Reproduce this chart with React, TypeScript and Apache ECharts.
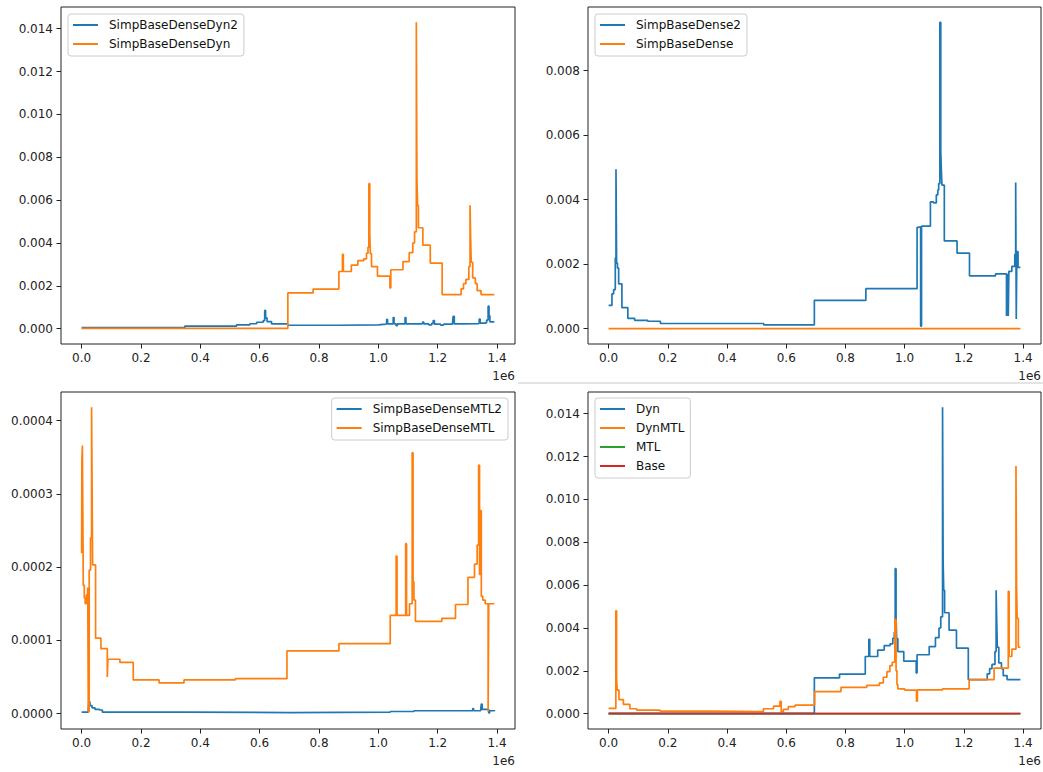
import React, { useEffect, useRef } from "react";
import * as echarts from "echarts";

// ---------- tick values ----------
const X_TICKS = [0, 0.2, 0.4, 0.6, 0.8, 1.0, 1.2, 1.4];
const Y_TICKS_DYN = [0, 0.002, 0.004, 0.006, 0.008, 0.01, 0.012, 0.014];
const Y_TICKS_DENSE = [0, 0.002, 0.004, 0.006, 0.008];
const Y_TICKS_MTL = [0, 0.0001, 0.0002, 0.0003, 0.0004];

// ---------- data (x in units of 1e6) ----------
// SimpBaseDenseDyn (also "Dyn")
const dynX = [0, 0.695, 0.78, 0.867, 0.879, 0.882, 0.909, 0.931, 0.951, 0.96, 0.965, 0.968, 0.971, 0.973, 0.977, 0.997, 1.039, 1.042, 1.083, 1.104, 1.116, 1.122, 1.128, 1.13, 1.132, 1.135, 1.15, 1.175, 1.215, 1.279, 1.287, 1.295, 1.305, 1.309, 1.311, 1.313, 1.318, 1.327, 1.333, 1.346, 1.391];
const dynY = [0.00001, 0.00167, 0.00185, 0.00267, 0.00347, 0.00267, 0.00297, 0.00318, 0.00326, 0.00352, 0.0038, 0.00677, 0.0045, 0.0035, 0.0029, 0.00245, 0.0019, 0.00275, 0.00313, 0.00355, 0.004, 0.00452, 0.0143, 0.0071, 0.00576, 0.00471, 0.0039, 0.00306, 0.00159, 0.00186, 0.0021, 0.0023, 0.0029, 0.00576, 0.0043, 0.0031, 0.00237, 0.0021, 0.00178, 0.00159, 0.00159];

// SimpBaseDenseDyn2
const dyn2X = [0, 0.348, 0.522, 0.567, 0.59, 0.612, 0.617, 0.62, 0.625, 0.64, 0.695, 0.87, 1.0, 1.026, 1.028, 1.031, 1.048, 1.05, 1.053, 1.06, 1.064, 1.088, 1.09, 1.093, 1.145, 1.149, 1.153, 1.17, 1.18, 1.185, 1.189, 1.21, 1.22, 1.25, 1.252, 1.256, 1.28, 1.338, 1.34, 1.343, 1.36, 1.365, 1.37, 1.373, 1.376, 1.391];
const dyn2Y = [0.00005, 0.00012, 0.00018, 0.00023, 0.0003, 0.00038, 0.00085, 0.0005, 0.00033, 0.00022, 0.00016, 0.00018, 0.00021, 0.00023, 0.00043, 0.00022, 0.00024, 0.00052, 0.00022, 0.00014, 0.00022, 0.00024, 0.00052, 0.00022, 0.00025, 0.00031, 0.00022, 0.00018, 0.00025, 0.00038, 0.00021, 0.00017, 0.00021, 0.00025, 0.00058, 0.00022, 0.00023, 0.00026, 0.00045, 0.00026, 0.00028, 0.0004, 0.00105, 0.0006, 0.00032, 0.00029];

// SimpBaseDense2
const dense2X = [0, 0.0114, 0.017, 0.0226, 0.025, 0.027, 0.03, 0.034, 0.045, 0.065, 0.088, 0.132, 0.175, 0.524, 0.695, 0.869, 1.042, 1.046, 1.054, 1.057, 1.087, 1.098, 1.107, 1.112, 1.115, 1.119, 1.122, 1.124, 1.126, 1.134, 1.177, 1.219, 1.307, 1.344, 1.346, 1.347, 1.349, 1.35, 1.352, 1.362, 1.372, 1.375, 1.377, 1.379, 1.383, 1.391];
const dense2Y = [0.00072, 0.00108, 0.00121, 0.00219, 0.00494, 0.00203, 0.00188, 0.00139, 0.00065, 0.00032, 0.00026, 0.00023, 0.00016, 0.00012, 0.00088, 0.00124, 0.00314, 0.00316, 0.00008, 0.00318, 0.00393, 0.0039, 0.00415, 0.0043, 0.0045, 0.0095, 0.0055, 0.0049, 0.00445, 0.00272, 0.00234, 0.00164, 0.0017, 0.00039, 0.0017, 0.00042, 0.0017, 0.00039, 0.00178, 0.00193, 0.0023, 0.00453, 0.0003, 0.00239, 0.0019, 0.0019];

// SimpBaseDense
const denseX = [0, 1.391];
const denseY = [0, 0];

// SimpBaseDenseMTL
const mtlX = [0, 0.0008, 0.0025, 0.0045, 0.0055, 0.009, 0.012, 0.016, 0.019, 0.0205, 0.0225, 0.0255, 0.03, 0.0335, 0.0355, 0.037, 0.047, 0.065, 0.0865, 0.0885, 0.129, 0.174, 0.261, 0.345, 0.518, 0.692, 0.867, 1.04, 1.06, 1.063, 1.092, 1.095, 1.105, 1.114, 1.117, 1.12, 1.125, 1.214, 1.26, 1.302, 1.324, 1.333, 1.338, 1.341, 1.344, 1.347, 1.352, 1.36, 1.37, 1.372, 1.391];
const mtlY = [0.000219, 0.000345, 0.000366, 0.000245, 0.000175, 0.000158, 0.00015, 0.000162, 0.00015, 0.000172, 0.000003, 0.000196, 0.00024, 0.000418, 0.000295, 0.000203, 0.000103, 0.0000887, 0.00005, 0.0000743, 0.00007, 0.000046, 0.000042, 0.000046, 0.0000477, 0.0000856, 0.0000955, 0.000134, 0.000215, 0.000134, 0.000232, 0.000134, 0.00015, 0.000356, 0.00018, 0.000155, 0.000126, 0.00013, 0.000149, 0.000186, 0.000204, 0.00023, 0.000339, 0.00019, 0.000277, 0.00016, 0.000155, 0.00015, 0.000003, 0.00015, 0.00015];

// SimpBaseDenseMTL2
const mtl2X = [0, 0.022, 0.024, 0.028, 0.035, 0.045, 0.06, 0.07, 0.35, 0.7, 1.04, 1.12, 1.3, 1.318, 1.321, 1.345, 1.347, 1.35, 1.372, 1.375, 1.391];
const mtl2Y = [0.000002, 0.000003, 0.000016, 0.000011, 0.000008, 0.000006, 0.000005, 0.000002, 0.0000015, 0.000002, 0.000003, 0.000004, 0.000004, 0.000007, 0.000004, 0.000006, 0.000013, 0.000006, 0.000001, 0.000004, 0.000005];

// DynMTL
const dynMtlX = [0, 0.0245, 0.027, 0.029, 0.035, 0.05, 0.072, 0.095, 0.174, 0.348, 0.523, 0.557, 0.579, 0.583, 0.59, 0.607, 0.63, 0.696, 0.785, 0.872, 0.915, 0.928, 0.94, 0.95, 0.958, 0.967, 0.971, 0.974, 0.977, 1.0, 1.04, 1.043, 1.128, 1.218, 1.302, 1.35, 1.353, 1.362, 1.376, 1.378, 1.38, 1.384, 1.391];
const dynMtlY = [0.00025, 0.0048, 0.0016, 0.0011, 0.00066, 0.00043, 0.00023, 0.00017, 0.00012, 0.0001, 0.00023, 0.00035, 0.00058, 0.00009, 0.0002, 0.00033, 0.0004, 0.00103, 0.00123, 0.00132, 0.00144, 0.0017, 0.00196, 0.00224, 0.0024, 0.0044, 0.002, 0.00136, 0.00116, 0.0011, 0.00058, 0.00111, 0.00116, 0.00159, 0.00213, 0.00571, 0.00267, 0.00301, 0.01156, 0.0061, 0.00445, 0.0031, 0.0031];

// MTL, Base
const mtlOnlyX = [0, 1.391];
const mtlOnlyY = [0, 0];
const baseX = [0, 1.391];
const baseY = [0, 0];

// ---------- styling ----------
const C_BLUE = "#1f77b4";
const C_ORANGE = "#ff7f0e";
const C_GREEN = "#2ca02c";
const C_RED = "#d62728";
const FONT = "DejaVu Sans";
const INK = "#222222";

const X_MIN = -0.06955;
const X_MAX = 1.46055;

type S = { name: string; xs: number[]; ys: number[]; color: string };
type Panel = {
  grid: { left: number; top: number; width: number; height: number };
  yMin: number;
  yMax: number;
  yTicks: number[];
  yDec: number;
  legend: Record<string, number>;
  series: S[];
};

const PANELS: Panel[] = [
  {
    grid: { left: 61, top: 7, width: 454, height: 337 },
    yMin: -0.000715,
    yMax: 0.015015,
    yTicks: Y_TICKS_DYN,
    yDec: 3,
    legend: { left: 68, top: 14 },
    series: [
      { name: "SimpBaseDenseDyn2", xs: dyn2X, ys: dyn2Y, color: C_BLUE },
      { name: "SimpBaseDenseDyn", xs: dynX, ys: dynY, color: C_ORANGE },
    ],
  },
  {
    grid: { left: 588, top: 7, width: 453, height: 337 },
    yMin: -0.000475,
    yMax: 0.009975,
    yTicks: Y_TICKS_DENSE,
    yDec: 3,
    legend: { left: 595, top: 14 },
    series: [
      { name: "SimpBaseDense2", xs: dense2X, ys: dense2Y, color: C_BLUE },
      { name: "SimpBaseDense", xs: denseX, ys: denseY, color: C_ORANGE },
    ],
  },
  {
    grid: { left: 61, top: 392, width: 454, height: 337 },
    yMin: -0.0000209,
    yMax: 0.0004389,
    yTicks: Y_TICKS_MTL,
    yDec: 4,
    legend: { right: 535, top: 398 },
    series: [
      { name: "SimpBaseDenseMTL2", xs: mtl2X, ys: mtl2Y, color: C_BLUE },
      { name: "SimpBaseDenseMTL", xs: mtlX, ys: mtlY, color: C_ORANGE },
    ],
  },
  {
    grid: { left: 588, top: 392, width: 453, height: 337 },
    yMin: -0.000715,
    yMax: 0.015015,
    yTicks: Y_TICKS_DYN,
    yDec: 3,
    legend: { left: 595, top: 398 },
    series: [
      { name: "Dyn", xs: dynX, ys: dynY, color: C_BLUE },
      { name: "DynMTL", xs: dynMtlX, ys: dynMtlY, color: C_ORANGE },
      { name: "MTL", xs: mtlOnlyX, ys: mtlOnlyY, color: C_GREEN },
      { name: "Base", xs: baseX, ys: baseY, color: C_RED },
    ],
  },
];

function pts(xs: number[], ys: number[]) {
  return xs.map((x, i) => [x, ys[i]]);
}

function buildOption() {
  const grid: any[] = [];
  const xAxis: any[] = [];
  const yAxis: any[] = [];
  const series: any[] = [];
  const legend: any[] = [];
  const graphic: any[] = [];

  PANELS.forEach((p, i) => {
    grid.push({
      ...p.grid,
      show: true,
      borderColor: INK,
      borderWidth: 1,
      backgroundColor: "transparent",
      containLabel: false,
    });
    xAxis.push({
      type: "value",
      gridIndex: i,
      position: "bottom",
      min: X_MIN,
      max: X_MAX,
      axisLine: { show: false, onZero: false },
      splitLine: { show: false },
      axisTick: {
        show: true,
        inside: false,
        length: 4.5,
        lineStyle: { color: INK, width: 1 },
        customValues: X_TICKS,
      },
      axisLabel: {
        customValues: X_TICKS,
        formatter: (v: number) => v.toFixed(1),
        color: INK,
        fontSize: 12,
        fontFamily: FONT,
        margin: 8,
      },
    });
    yAxis.push({
      type: "value",
      gridIndex: i,
      position: "left",
      min: p.yMin,
      max: p.yMax,
      axisLine: { show: false, onZero: false },
      splitLine: { show: false },
      axisTick: {
        show: true,
        inside: false,
        length: 4.5,
        lineStyle: { color: INK, width: 1 },
        customValues: p.yTicks,
      },
      axisLabel: {
        customValues: p.yTicks,
        formatter: (v: number) => v.toFixed(p.yDec),
        color: INK,
        fontSize: 12,
        fontFamily: FONT,
        margin: 8,
      },
    });
    p.series.forEach((s) => {
      series.push({
        type: "line",
        name: s.name,
        xAxisIndex: i,
        yAxisIndex: i,
        data: pts(s.xs, s.ys),
        step: "end",
        symbol: "none",
        showSymbol: false,
        silent: true,
        color: s.color,
        lineStyle: { color: s.color, width: 1.7 },
        itemStyle: { color: s.color },
        clip: true,
      });
    });
    legend.push({
      ...p.legend,
      data: p.series.map((s) => s.name),
      orient: "vertical",
      icon: "rect",
      itemWidth: 25,
      itemHeight: 2,
      itemGap: 5,
      padding: [4, 6, 5, 5],
      backgroundColor: "rgba(255,255,255,0.8)",
      borderColor: "#cccccc",
      borderWidth: 1,
      borderRadius: 3,
      selectedMode: false,
      textStyle: {
        fontSize: 12,
        fontFamily: FONT,
        color: "#111111",
        lineHeight: 14,
        padding: [0, 0, 0, 6],
      },
    });
    graphic.push({
      type: "text",
      x: p.grid.left + p.grid.width,
      y: p.grid.top + p.grid.height + 32,
      style: {
        text: "1e6",
        align: "right",
        verticalAlign: "middle",
        fontSize: 12,
        fontFamily: FONT,
        fill: INK,
      },
    });
  });

  graphic.push({
    type: "line",
    shape: { x1: 518, y1: 383, x2: 1043, y2: 383 },
    style: { stroke: "#c8c8c8", lineWidth: 1 },
  });

  return {
    animation: false,
    backgroundColor: "#ffffff",
    grid,
    xAxis,
    yAxis,
    series,
    legend,
    graphic,
  };
}

export default function App() {
  const ref = useRef<HTMLDivElement>(null);
  useEffect(() => {
    if (!ref.current) return;
    const chart = echarts.init(ref.current, undefined, { renderer: "svg" });
    chart.setOption(buildOption() as any);
    return () => chart.dispose();
  }, []);
  return (
    <div
      ref={ref}
      style={{ position: "absolute", left: 0, top: 0, width: 1043, height: 772 }}
    />
  );
}
